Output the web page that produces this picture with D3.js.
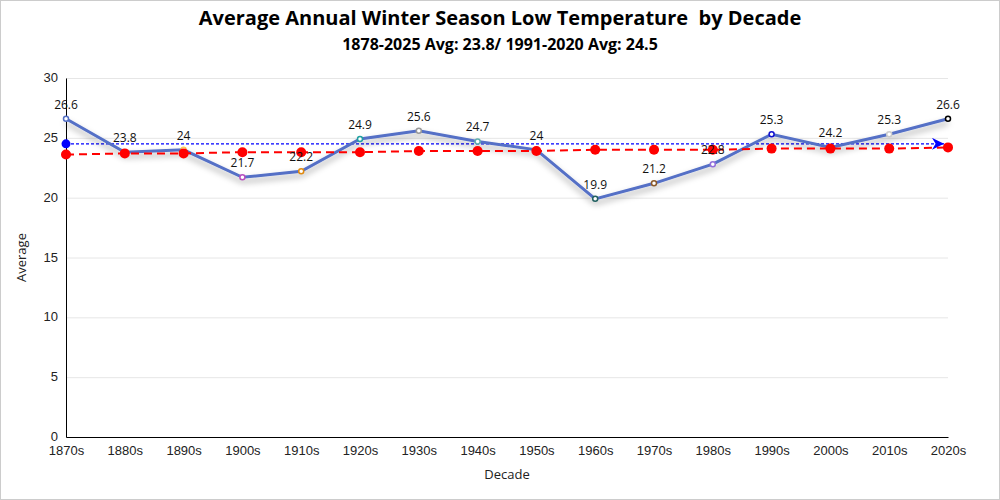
<!DOCTYPE html>
<html>
<head>
<meta charset="utf-8">
<script src="https://cdn.jsdelivr.net/npm/d3@7"></script>
<style>
  body { margin: 0; background: #fff; }
  svg { font-family: "Open Sans", "Noto Sans", sans-serif; }
</style>
</head>
<body>
<svg id="chart" width="1000" height="500"></svg>
<script>
var decades = ["1870s", "1880s", "1890s", "1900s", "1910s", "1920s", "1930s", "1940s",
    "1950s", "1960s", "1970s", "1980s", "1990s", "2000s", "2010s", "2020s"];
var averages = [26.6, 23.8, 24, 21.7, 22.2, 24.9, 25.6, 24.7, 24, 19.9, 21.2, 22.8, 25.3, 24.2, 25.3, 26.6];
var trend = [23.6, 23.7, 23.7, 23.8, 23.8, 23.8, 23.9, 23.9, 23.9, 24.0, 24.0, 24.0, 24.1, 24.1, 24.1, 24.2];
var normal = 24.5;
var markerColors = ["#5470c6", "#91cc75", "#fac858", "#b850c0", "#e08a10", "#20a0a0", "#999999", "#60b0b0",
    "#7a7a7a", "#206060", "#8b5a2b", "#9370db", "#1010d0", "#5470c6", "#cccccc", "#000000"];
var yTicks = [0, 5, 10, 15, 20, 25, 30];

var svg = d3.select("#chart");
var margin = { top: 78, right: 52, bottom: 63, left: 66 },
    width = 1000 - margin.left - margin.right,
    height = 500 - margin.top - margin.bottom;

svg.append("rect")
    .attr("x", 0.5).attr("y", 0.5)
    .attr("width", 999).attr("height", 499)
    .attr("fill", "#fff").attr("stroke", "#ccc");

var defs = svg.append("defs");
defs.append("filter").attr("id", "shadow")
    .attr("x", "-10%").attr("y", "-20%").attr("width", "120%").attr("height", "160%")
    .append("feDropShadow")
    .attr("dx", 0).attr("dy", 4).attr("stdDeviation", 3)
    .attr("flood-color", "#000").attr("flood-opacity", 0.35);
defs.append("marker").attr("id", "arrow")
    .attr("viewBox", "0 0 10 10").attr("refX", 10).attr("refY", 5)
    .attr("markerWidth", 16).attr("markerHeight", 12).attr("markerUnits", "userSpaceOnUse")
    .attr("orient", "auto")
    .append("path").attr("d", "M0,0L10,5L0,10L3,5Z").attr("fill", "#0000ff");

svg.append("text")
    .attr("x", 500).attr("y", 25)
    .attr("text-anchor", "middle")
    .attr("font-size", "20px").attr("font-weight", "bold")
    .style("white-space", "pre")
    .text("Average Annual Winter Season Low Temperature  by Decade");
svg.append("text")
    .attr("x", 500).attr("y", 50)
    .attr("text-anchor", "middle")
    .attr("font-size", "16px").attr("font-weight", "bold")
    .text("1878-2025 Avg: 23.8/ 1991-2020 Avg: 24.5");

var g = svg.append("g")
    .attr("transform", "translate(" + margin.left + "," + margin.top + ")");

var xScale = d3.scalePoint().domain(decades).range([0, width]);
var yScale = d3.scaleLinear().domain([0, 30]).range([height, 0]);

// grid
g.append("g")
    .call(d3.axisLeft(yScale).tickValues(yTicks).tickSize(-width).tickFormat(""))
    .call(function (a) {
        a.select(".domain").remove();
        a.selectAll("line").attr("stroke", "#e6e6e6");
    });

g.append("g")
    .attr("transform", "translate(0," + height + ")")
    .call(d3.axisBottom(xScale).tickSize(0).tickPadding(9))
    .call(function (a) {
        a.select(".domain").attr("stroke", "#000");
        a.selectAll("text").attr("font-size", "13px").attr("fill", "#222").attr("font-family", "inherit");
    });

g.append("g")
    .call(d3.axisLeft(yScale).tickValues(yTicks).tickSize(0).tickPadding(8))
    .call(function (a) {
        a.select(".domain").attr("stroke", "#000");
        a.selectAll("text").attr("font-size", "13px").attr("fill", "#222").attr("font-family", "inherit")
            .attr("dy", "0.28em");
    });

svg.append("text")
    .attr("transform", "translate(26," + (margin.top + height / 2) + ") rotate(-90)")
    .attr("text-anchor", "middle")
    .attr("font-size", "13px").attr("fill", "#222")
    .text("Average");
svg.append("text")
    .attr("x", margin.left + width / 2).attr("y", 479)
    .attr("text-anchor", "middle")
    .attr("font-size", "13px").attr("fill", "#222")
    .text("Decade");

// 1991-2020 normal
g.append("line")
    .attr("x1", xScale(decades[0])).attr("x2", xScale(decades[decades.length - 1]) - 4)
    .attr("y1", yScale(normal)).attr("y2", yScale(normal))
    .attr("stroke", "#0000ff").attr("stroke-width", 1.2)
    .attr("stroke-dasharray", "3,2")
    .attr("marker-end", "url(#arrow)");
g.append("circle")
    .attr("cx", xScale(decades[0])).attr("cy", yScale(normal))
    .attr("r", 4.5).attr("fill", "#0000ff");

// main series
var line = d3.line()
    .x(function (d, i) { return xScale(decades[i]); })
    .y(function (d) { return yScale(d); });
g.append("path")
    .datum(averages)
    .attr("d", line)
    .attr("fill", "none")
    .attr("stroke", "#5470c6").attr("stroke-width", 3)
    .attr("filter", "url(#shadow)");

g.selectAll(".pt")
    .data(averages)
    .enter().append("circle")
    .attr("class", "pt")
    .attr("cx", function (d, i) { return xScale(decades[i]); })
    .attr("cy", function (d) { return yScale(d); })
    .attr("r", 2.5)
    .attr("fill", "#fff")
    .attr("stroke", function (d, i) { return markerColors[i]; })
    .attr("stroke-width", 1.5);

// trend
var trendLine = d3.line()
    .x(function (d, i) { return xScale(decades[i]); })
    .y(function (d) { return yScale(d); });
g.append("path")
    .datum(trend)
    .attr("d", trendLine)
    .attr("fill", "none")
    .attr("stroke", "#ff0000").attr("stroke-width", 2)
    .attr("stroke-dasharray", "8,5");
g.selectAll(".trend-dot")
    .data(trend)
    .enter().append("circle")
    .attr("class", "trend-dot")
    .attr("cx", function (d, i) { return xScale(decades[i]); })
    .attr("cy", function (d) { return yScale(d); })
    .attr("r", 5).attr("fill", "#ff0000");

g.selectAll(".lbl")
    .data(averages)
    .enter().append("text")
    .attr("class", "lbl")
    .attr("x", function (d, i) { return xScale(decades[i]); })
    .attr("y", function (d) { return yScale(d) - 10; })
    .attr("text-anchor", "middle")
    .attr("font-size", "12px").attr("fill", "#111")
    .text(function (d) { return d; });
</script>
</body>
</html>
